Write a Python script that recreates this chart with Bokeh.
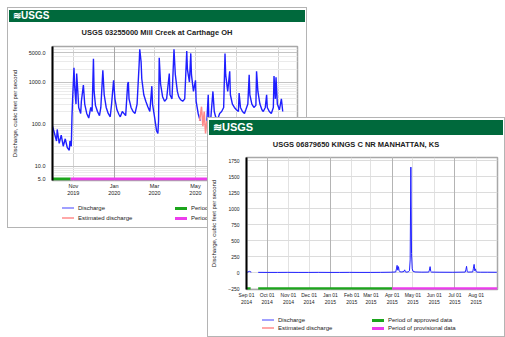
import math
from bokeh.plotting import figure
from bokeh.layouts import column
from bokeh.models import Div, FixedTicker, PrintfTickFormatter, Grid, Range1d
from bokeh.embed import file_html
from bokeh.resources import INLINE

nan = float("nan")
FONT = "Liberation Sans"
HDR_GREEN = "#00693c"
BLUE = "#1f1fff"
PINK = "#ff8a8a"
APPROVED = "#1ca51c"
PROVISIONAL = "#ec3cec"

# ---------------- Panel 1 : Mill Creek at Carthage OH ----------------
p1_title = "USGS 03255000 Mill Creek at Carthage OH"
p1_days = [0, 3, 6, 7, 10, 13, 16, 19, 22, 25, 26, 28, 29, 30, 32, 33, 35, 36, 38, 39,
           42, 43, 46, 48, 51, 54, 57, 59, 61, 62, 64, 67, 70, 72, 75, 77, 80, 83, 86, 88,
           91, 93, 96, 99, 101, 104, 109, 112, 113, 114, 117, 120, 123, 126, 129, 130, 132, 133, 136, 139,
           142, 145, 148, 149, 152, 155, 157, 158, 159, 161, 164, 167, 170, 174, 175, 178, 181, 183, 186, 188,
           191, 194, 197, 200, 201, 204, 206, 207, 210, 213, 214, 217, 220, 221,
           230, 232, 233, 235, 236, 239, 241, 243, 246, 249, 252, 255, 257, 258, 261, 264, 265, 268, 271, 274,
           277, 278, 280, 283, 286, 288, 291, 293, 294, 297, 300, 303, 304, 306, 309, 312, 314, 317, 319, 320,
           323, 326, 329, 330, 332, 333, 335, 338, 341, 343]
p1_flow = [90, 60, 40, 75, 35, 55, 30, 45, 28, 24, 40, 30, 150, 400, 2200, 800, 300, 1600, 500, 250,
           180, 350, 850, 300, 180, 140, 250, 200, 3600, 600, 280, 200, 160, 250, 1900, 500, 250, 180, 150, 300,
           1100, 400, 220, 170, 150, 200, 160, 900, 1000, 400, 250, 200, 180, 300, 2500, 6000, 3000, 1200, 500, 350,
           260, 200, 800, 300, 150, 70, 60, 120, 3800, 900, 450, 350, 400, 1600, 500, 400, 6000, 1500, 600, 450,
           380, 350, 400, 5500, 2000, 1000, 4800, 1500, 600, 1100, 350, 180, 120, nan,
           120, 500, 120, 60, 150, 600, 200, 150, 130, 180, 200, 250, 4800, 1500, 600, 1800, 500, 300, 250, 220,
           200, 550, 250, 200, 180, 220, 300, 1500, 500, 300, 250, 280, 1800, 600, 300, 220, 200, 250, 500, 250,
           200, 180, 250, 1400, 400, 1300, 300, 220, 400, 200]
p1_est_days = [219, 220, 222, 224, 226, 228, 230]
p1_est_flow = [120, 150, 260, 90, 200, 60, 120]
p1_tick_days = [31, 92, 152, 213, 274, 336]
p1_tick_labels = ["Nov\n2019", "Jan\n2020", "Mar\n2020", "May\n2020", "Jul\n2020", "Sep\n2020"]
p1_y_ticks = [5, 10, 100, 1000, 5000]
p1_y_minor = [6, 7, 8, 9, 20, 30, 40, 50, 60, 70, 80, 90, 200, 300, 400, 500, 600, 700, 800, 900,
              2000, 3000, 4000, 6000]
p1_approved_days = [0, 27]
p1_provisional_days = [27, 365]

# ---------------- Panel 2 : Kings C nr Manhattan KS ----------------
p2_title = "USGS 06879650 KINGS C NR MANHATTAN, KS"
p2_days = [0, 2, 4, 7, 8, 17, 30, 45, 60, 75, 90, 105, 120, 135, 150, 165, 180, 195, 210, 217,
           218, 219, 220, 221, 222, 223, 226, 229, 230, 231, 232, 235, 237, 238, 239, 240, 241, 242, 245, 255,
           265, 266, 267, 268, 269, 280, 300, 318, 319, 320, 321, 322, 329, 330, 331, 332, 333, 334, 335, 340,
           350, 364]
p2_flow = [8, 10, 22, 9, nan, 6, 5, 5, 6, 5, 5, 6, 5, 5, 6, 5, 5, 6, 8, 12,
           60, 115, 40, 95, 30, 15, 12, 20, 45, 15, 10, 12, 30, 200, 1650, 300, 60, 25, 12, 9,
           10, 40, 95, 20, 10, 8, 7, 10, 45, 100, 15, 10, 12, 70, 130, 30, 60, 15, 10, 8,
           8, 7]
p2_tick_days = [0, 30, 61, 91, 122, 153, 181, 212, 242, 273, 303, 334]
p2_tick_labels = ["Sep 01\n2014", "Oct 01\n2014", "Nov 01\n2014", "Dec 01\n2014", "Jan 01\n2015",
                  "Feb 01\n2015", "Mar 01\n2015", "Apr 01\n2015", "May 01\n2015", "Jun 01\n2015",
                  "Jul 01\n2015", "Aug 01\n2015"]
p2_quarter_days = [30, 122, 212, 303]
p2_y_ticks = [-250, 0, 250, 500, 750, 1000, 1250, 1500, 1750]
p2_approved_days = [[0, 6], [17, 212]]
p2_provisional_days = [212, 365]

legend_names = ["Discharge", "Estimated discharge", "Period of approved data", "Period of provisional data"]
legend_colors = ["#a0a0ff", "#ffa8a8", APPROVED, PROVISIONAL]
legend_thick = [2, 2, 3, 3]
y_label = "Discharge, cubic feet per second"


def header(width, height, size):
    return Div(text="<b>&#8779;USGS</b>", width=width, height=height, margin=(2, 1, 0, 1),
               styles={"background-color": HDR_GREEN, "color": "white", "font-family": FONT,
                       "font-size": f"{size}px", "line-height": f"{height}px", "padding-left": "4px",
                       "box-sizing": "border-box", "overflow": "hidden"})


def title_div(text, width, height):
    return Div(text=f"<b>{text}</b>", width=width, height=height, margin=0,
               styles={"background-color": "white", "color": "#222222", "font-family": FONT,
                       "font-size": "7.5px", "line-height": f"{height + 1}px", "text-align": "center",
                       "overflow": "hidden"})


def legend_div(width, height, col_left, row_top):
    parts = []
    for i, (name, col, th) in enumerate(zip(legend_names, legend_colors, legend_thick)):
        left = col_left[i // 2]
        top = row_top[i % 2]
        parts.append(
            f'<div style="position:absolute;left:{left}px;top:{top}px;white-space:nowrap;line-height:8px;">'
            f'<span style="display:inline-block;width:12px;height:{th}px;background:{col};'
            f'vertical-align:middle;margin-right:4px;"></span>{name}</div>')
    html = (f'<div style="position:relative;width:{width}px;height:{height}px;font-family:{FONT};'
            f'font-size:6px;color:#222222;">' + "".join(parts) + '</div>')
    return Div(text=html, width=width, height=height, margin=0,
               styles={"background-color": "white", "overflow": "hidden"})


def base_style(p, tick_size, label_size):
    p.background_fill_color = "white"
    p.border_fill_color = "white"
    p.outline_line_color = "#a8a8a8"
    p.outline_line_width = 1.5
    for ax in (p.xaxis, p.yaxis):
        ax.major_label_text_font = FONT
        ax.major_label_text_font_size = f"{tick_size}px"
        ax.major_label_text_color = "#222222"
        ax.major_tick_line_color = None
        ax.minor_tick_line_color = None
        ax.major_tick_out = 0
        ax.minor_tick_out = 0
        ax.major_tick_in = 0
        ax.minor_tick_in = 0
    p.xaxis.axis_line_color = None
    p.xaxis.major_label_standoff = 2
    p.yaxis.axis_line_color = "black"
    p.yaxis.axis_line_width = 2
    p.yaxis.major_label_standoff = 7
    p.yaxis.axis_label = y_label
    p.yaxis.axis_label_text_font = FONT
    p.yaxis.axis_label_text_font_size = f"{label_size}px"
    p.yaxis.axis_label_text_font_style = "normal"
    p.yaxis.axis_label_text_color = "#222222"
    p.yaxis.axis_label_standoff = 8


# ---------------- figure 1 ----------------
p1 = figure(width=298, height=155, y_axis_type="log", x_range=Range1d(0, 365), y_range=Range1d(4.6, 7000),
            output_backend="svg", toolbar_location=None, margin=0,
            min_border_left=37, min_border_right=9, min_border_top=3, min_border_bottom=17)
base_style(p1, 5.5, 6)
yt1 = FixedTicker(ticks=p1_y_ticks, minor_ticks=p1_y_minor)
p1.yaxis.ticker = yt1
p1.ygrid.ticker = yt1
p1.yaxis.formatter = PrintfTickFormatter(format="%.1f")
p1.ygrid.grid_line_color = "#c4c4c4"
p1.ygrid.minor_grid_line_color = "#ebebeb"
xt1 = FixedTicker(ticks=p1_tick_days)
p1.xaxis.ticker = xt1
p1.xgrid.ticker = xt1
p1.xaxis.major_label_overrides = {d: l for d, l in zip(p1_tick_days, p1_tick_labels)}
p1.xgrid.grid_line_color = "#d4d4d4"
p1.add_layout(Grid(dimension=0, ticker=FixedTicker(ticks=[p1_tick_days[1]]), grid_line_color="#a8a8a8"))
p1.line(p1_days, p1_flow, line_color=BLUE, line_width=1.4)
p1.line(p1_est_days, p1_est_flow, line_color=PINK, line_width=1.5)
p1.line(p1_approved_days, [5, 5], line_color=APPROVED, line_width=3)
p1.line(p1_provisional_days, [5, 5], line_color=PROVISIONAL, line_width=3)

# ---------------- figure 2 ----------------
p2 = figure(width=296, height=153, x_range=Range1d(0, 365), y_range=Range1d(-262, 1800),
            output_backend="svg", toolbar_location=None, margin=0,
            min_border_left=33, min_border_right=7, min_border_top=3, min_border_bottom=17)
base_style(p2, 5, 6)
yt2 = FixedTicker(ticks=p2_y_ticks)
p2.yaxis.ticker = yt2
p2.ygrid.ticker = yt2
p2.ygrid.grid_line_color = "#dcdcdc"
xt2 = FixedTicker(ticks=p2_tick_days)
p2.xaxis.ticker = xt2
p2.xgrid.ticker = xt2
p2.xaxis.major_label_overrides = {d: l for d, l in zip(p2_tick_days, p2_tick_labels)}
p2.xgrid.grid_line_color = "#e2e2e2"
p2.add_layout(Grid(dimension=0, ticker=FixedTicker(ticks=p2_quarter_days), grid_line_color="#b4b4b4"))
p2.line(p2_days, p2_flow, line_color=BLUE, line_width=1)
for seg in p2_approved_days:
    p2.line(seg, [-250, -250], line_color=APPROVED, line_width=3)
p2.line(p2_provisional_days, [-250, -250], line_color=PROVISIONAL, line_width=3)

panel_style = {"outline": "1px solid #b4b4b4", "background-color": "white"}
panel1 = column(header(296, 12, 10), title_div(p1_title, 298, 21), p1,
                legend_div(298, 29, [54, 167], [6, 16]),
                styles=dict(panel_style), margin=0, spacing=0)
panel2 = column(header(294, 15, 11), title_div(p2_title, 296, 19), p2,
                legend_div(296, 29, [54, 164], [9, 17]),
                styles=dict(panel_style), margin=(-109, 0, 0, 200), spacing=0)
root = column(panel1, panel2, margin=(8, 0, 0, 8), spacing=0)

open("out.html", "w").write(file_html(root, INLINE))
